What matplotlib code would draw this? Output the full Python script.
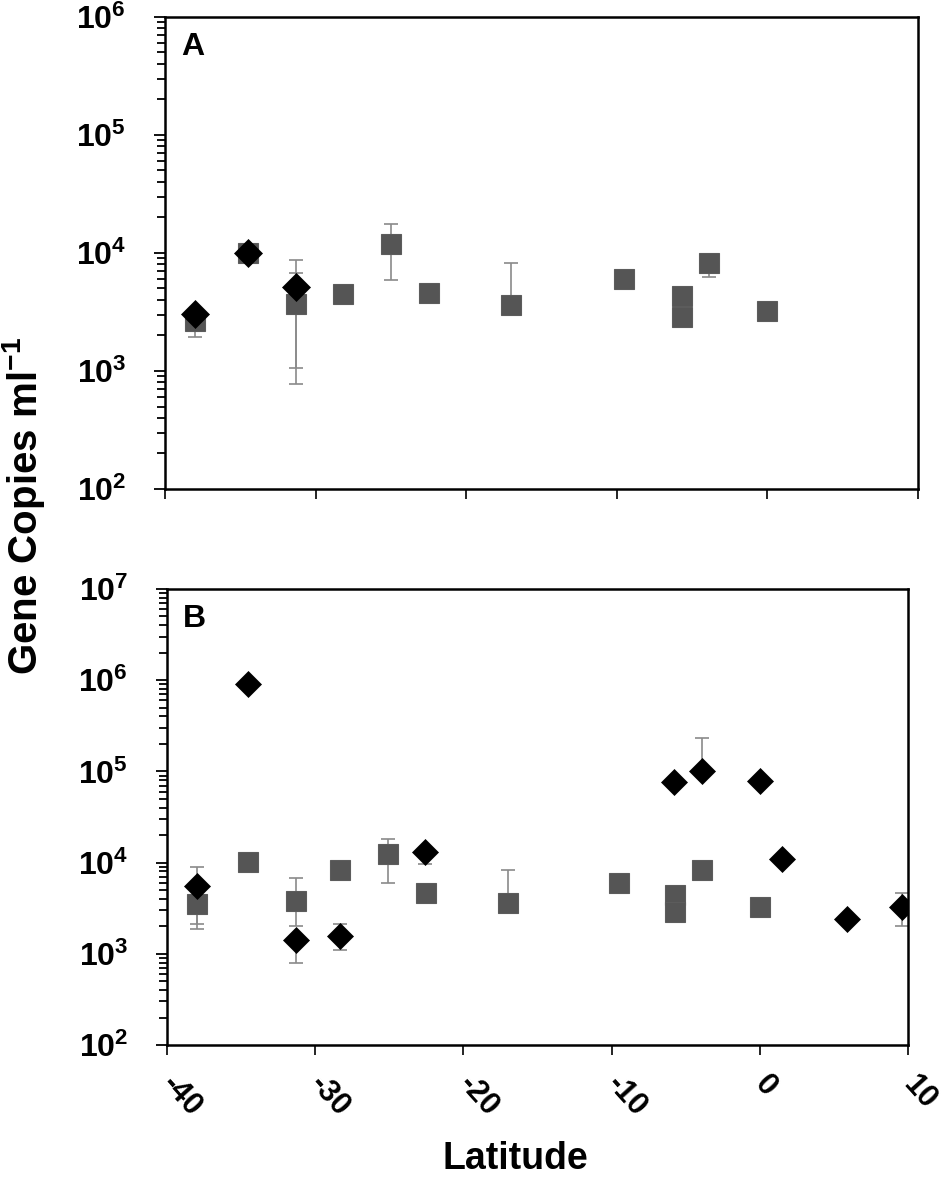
import matplotlib.pyplot as plt
import matplotlib.ticker as mticker
import numpy as np

plt.rcParams['font.family'] = ['Liberation Sans', 'DejaVu Sans']
plt.rcParams['font.weight'] = 'bold'
plt.rcParams['mathtext.fontset'] = 'custom'
plt.rcParams['mathtext.rm'] = 'Liberation Sans:bold'
plt.rcParams['mathtext.bf'] = 'Liberation Sans:bold'
plt.rcParams['mathtext.it'] = 'Liberation Sans:bold'

# panel A : squares (grey) and diamonds (black), error bounds as absolute values
lat_sq_a = [-38.0, -34.5, -31.3, -28.2, -25.0, -22.5, -17.0, -9.5, -5.7, -5.7, -3.9, 0.0]
val_sq_a = [2650, 10000, 3700, 4450, 11900, 4550, 3600, 6000, 4300, 2850, 8250, 3200]
lo_sq_a = [1950, None, 780, None, 5900, None, None, None, None, None, 6300, None]
hi_sq_a = [None, None, 8700, None, 17700, None, 8200, None, None, None, None, None]

lat_di_a = [-38.0, -34.5, -31.3]
val_di_a = [3050, 10000, 5100]
lo_di_a = [None, None, 1070]
hi_di_a = [None, None, 6700]

# panel B
lat_sq_b = [-38.0, -34.5, -31.3, -28.3, -25.1, -22.5, -17.0, -9.5, -5.7, -5.7, -3.9, 0.0]
val_sq_b = [3550, 10200, 3750, 8300, 12300, 4700, 3600, 6000, 4400, 2900, 8200, 3250]
lo_sq_b = [1870, None, 2000, None, 6000, None, None, None, None, None, None, None]
hi_sq_b = [None, None, 6800, None, 18000, None, 8200, None, None, None, None, None]

lat_di_b = [-38.0, -34.5, -31.3, -28.3, -22.6, -5.8, -3.9, 0.0, 1.5, 5.9, 9.6]
val_di_b = [5600, 900000, 1400, 1550, 13000, 76000, 100000, 78000, 11000, 2400, 3300]
lo_di_b = [2130, None, 790, 1100, 9700, None, None, None, None, None, 2000]
hi_di_b = [9000, None, None, 2100, None, None, 235000, None, None, None, 4700]

xticks = [-40, -30, -20, -10, 0, 10]
xticklabels = ['-40', '-30', '-20', '-10', '0', '10']


def errs(vals, lo, hi):
    v = np.array(vals, dtype=float)
    l = np.array([np.nan if a is None else a for a in lo], dtype=float)
    h = np.array([np.nan if a is None else a for a in hi], dtype=float)
    return np.vstack([np.nan_to_num(v - l), np.nan_to_num(h - v)])


def draw_panel(ax, lat_sq, val_sq, lo_sq, hi_sq, lat_di, val_di, lo_di, hi_di,
               ytop, letter, di_size):
    ax.errorbar(lat_sq, val_sq, yerr=errs(val_sq, lo_sq, hi_sq), fmt='none',
                ecolor='#8a8a8a', elinewidth=1.2, capsize=5, capthick=1.2, zorder=1)
    ax.errorbar(lat_di, val_di, yerr=errs(val_di, lo_di, hi_di), fmt='none',
                ecolor='#8a8a8a', elinewidth=1.2, capsize=5, capthick=1.2, zorder=1)
    ax.plot(lat_sq, val_sq, 's', ms=14.8, mfc='#555555', mec='#5c5c5c', mew=0.8,
            zorder=2)
    ax.plot(lat_di, val_di, 'D', ms=di_size, mfc='black', mec='black', mew=0.5,
            zorder=3)

    ax.set_yscale('log')
    ax.set_ylim(1e2, 10.0 ** ytop)
    ax.set_xlim(-40, 10)
    decades = list(range(2, ytop + 1))
    ax.set_yticks([10.0 ** k for k in decades])
    ax.set_yticklabels([r'$\mathbf{10^{%d}}$' % k for k in decades])
    ax.yaxis.set_minor_locator(mticker.LogLocator(base=10, subs=range(2, 10)))
    ax.yaxis.set_minor_formatter(mticker.NullFormatter())
    ax.set_xticks(xticks)
    ax.tick_params(axis='y', which='major', direction='out', length=8, width=1.3,
                   labelsize=23, pad=20)
    ax.tick_params(axis='y', which='minor', direction='out', length=6, width=1.3)
    ax.tick_params(axis='x', direction='out', length=7, width=1.2)
    for sp in ax.spines.values():
        sp.set_linewidth(1.8)
    ax.text(0.022, 0.968, letter, transform=ax.transAxes, ha='left', va='top',
            fontsize=23, fontweight='bold')


fig = plt.figure(figsize=(9.45, 11.78), dpi=100)
ax1 = fig.add_axes([0.1746, 0.5849, 0.7968, 0.4007])
ax2 = fig.add_axes([0.1767, 0.1129, 0.7841, 0.3871])

draw_panel(ax1, lat_sq_a, val_sq_a, lo_sq_a, hi_sq_a,
           lat_di_a, val_di_a, lo_di_a, hi_di_a, 6, 'A', 14.5)
draw_panel(ax2, lat_sq_b, val_sq_b, lo_sq_b, hi_sq_b,
           lat_di_b, val_di_b, lo_di_b, hi_di_b, 7, 'B', 13)

ax1.set_xticklabels([])
ax2.set_xticklabels(xticklabels, rotation=-48, ha='left', va='center',
                    rotation_mode='anchor', fontsize=22)
ax2.tick_params(axis='x', pad=18)

fig.text(0.545, 0.016, 'Latitude', ha='center', va='center', fontsize=27,
         fontweight='bold')
fig.text(0.025, 0.570, r'Gene Copies ml$^{\mathbf{-1}}$', rotation=90,
         ha='center', va='center', fontsize=29, fontweight='bold')

plt.savefig('out.png', dpi=100)
